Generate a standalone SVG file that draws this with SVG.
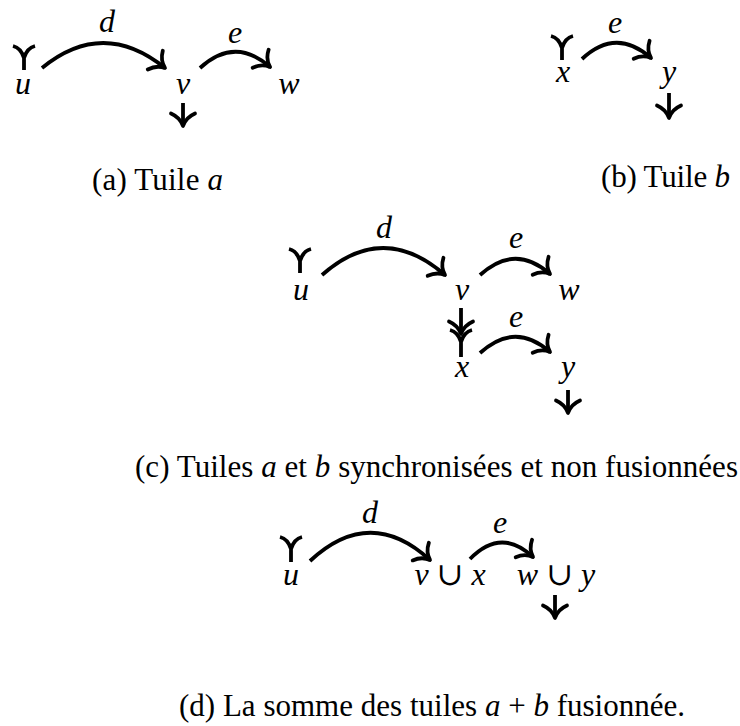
<svg xmlns="http://www.w3.org/2000/svg" width="740" height="726" viewBox="0 0 740 726">
<style>
.ln{fill:none;stroke:#000;stroke-width:3.8;stroke-linecap:butt}
.src{fill:none;stroke:#000;stroke-width:3.8;stroke-linecap:butt;stroke-linejoin:round}
.m{font-family:"Liberation Serif","DejaVu Serif",serif;font-style:italic;font-size:32px;fill:#000;text-anchor:middle}
.r{font-family:"Liberation Serif","DejaVu Serif",serif;font-style:normal}
.cap{font-family:"Liberation Serif","DejaVu Serif",serif;font-size:31px;fill:#000}
.it{font-style:italic}
</style>
<defs>
<marker id="tip" markerUnits="userSpaceOnUse" orient="auto" refX="0" refY="0" markerWidth="30" markerHeight="30" viewBox="-15 -15 30 30" overflow="visible">
<path d="M-12.5,-12 C-9.5,-5.2 -4.2,-1.4 0,0 C-4.2,1.4 -9.5,5.2 -12.5,12" fill="none" stroke="#000" stroke-width="3.8" stroke-linecap="round" stroke-linejoin="round"/>
</marker>
</defs>

<!-- Panel (a) -->
<g id="a-u"><path class="src" d="M13,46 Q21,48 24,58 Q27,48 35,46 M24,57 V70"/><text class="m" x="23" y="94">u</text></g>
<g id="a-v"><text class="m" x="183" y="94">v</text></g>
<g id="a-w"><text class="m" x="289" y="94">w</text></g>
<g id="a-caption"><text class="cap" x="92" y="190" textLength="131" lengthAdjust="spacing">(a) Tuile <tspan class="it">a</tspan></text></g>

<!-- Panel (b) -->
<g id="b-x"><path class="src" d="M551,36 Q559,38 562,48 Q565,38 573,36 M562,47 V60"/><text class="m" x="563" y="82">x</text></g>
<g id="b-y"><text class="m" x="669" y="82">y</text></g>
<g id="b-caption"><text class="cap" x="601" y="187" textLength="129" lengthAdjust="spacing">(b) Tuile <tspan class="it">b</tspan></text></g>

<!-- Panel (c) -->
<g id="c-u"><path class="src" d="M289,249 Q297,251 300,261 Q303,251 311,249 M300,260 V273"/><text class="m" x="301" y="300">u</text></g>
<g id="c-v"><text class="m" x="462" y="300">v</text></g>
<g id="c-w"><text class="m" x="569" y="300">w</text></g>
<g id="c-x"><path class="src" d="M450,330 Q458,332 461,342 Q464,332 472,330 M461,341 V357"/><text class="m" x="462" y="377">x</text></g>
<g id="c-y"><text class="m" x="568" y="377">y</text></g>
<g id="c-caption"><text class="cap" x="135" y="477" textLength="603" lengthAdjust="spacing">(c) Tuiles <tspan class="it">a</tspan> et <tspan class="it">b</tspan> synchronisées et non fusionnées</text></g>

<!-- Panel (d) -->
<g id="d-u"><path class="src" d="M280,537 Q288,539 291,549 Q294,539 302,537 M291,548 V562"/><text class="m" x="291" y="585">u</text></g>
<g id="d-vx"><text class="m" x="450" y="585">v <tspan class="r">∪</tspan> x</text></g>
<g id="d-wy"><text class="m" x="556" y="585">w <tspan class="r">∪</tspan> y</text></g>
<g id="d-caption"><text class="cap" x="179" y="716" textLength="506" lengthAdjust="spacing">(d) La somme des tuiles <tspan class="it">a</tspan> + <tspan class="it">b</tspan> fusionnée.</text></g>

<!-- Connectors -->
<g id="connectors">
<path class="ln" d="M42,68 Q103,18 165,68" marker-end="url(#tip)"/>
<text class="m" x="107" y="32">d</text>
<path class="ln" d="M200,68 Q235,36 270,67" marker-end="url(#tip)"/>
<text class="m" x="235" y="43">e</text>
<path class="ln" d="M183,103 V126" marker-end="url(#tip)"/>

<path class="ln" d="M582,59 Q616,27 651,58" marker-end="url(#tip)"/>
<text class="m" x="615" y="33">e</text>
<path class="ln" d="M669,93 V118" marker-end="url(#tip)"/>

<path class="ln" d="M322,275 Q383,221 445,275" marker-end="url(#tip)"/>
<text class="m" x="384" y="238">d</text>
<path class="ln" d="M480,275 Q515,243 550,274" marker-end="url(#tip)"/>
<text class="m" x="516" y="248">e</text>
<path class="ln" d="M461,308 V334" marker-end="url(#tip)"/>
<path class="ln" d="M480,353 Q515,321 550,352" marker-end="url(#tip)"/>
<text class="m" x="516" y="327">e</text>
<path class="ln" d="M568,390 V413" marker-end="url(#tip)"/>

<path class="ln" d="M310,561 Q370,505 430,560" marker-end="url(#tip)"/>
<text class="m" x="370" y="523">d</text>
<path class="ln" d="M470,559 Q501,527 533,557" marker-end="url(#tip)"/>
<text class="m" x="500" y="533">e</text>
<path class="ln" d="M555,595 V618" marker-end="url(#tip)"/>
</g>
</svg>
